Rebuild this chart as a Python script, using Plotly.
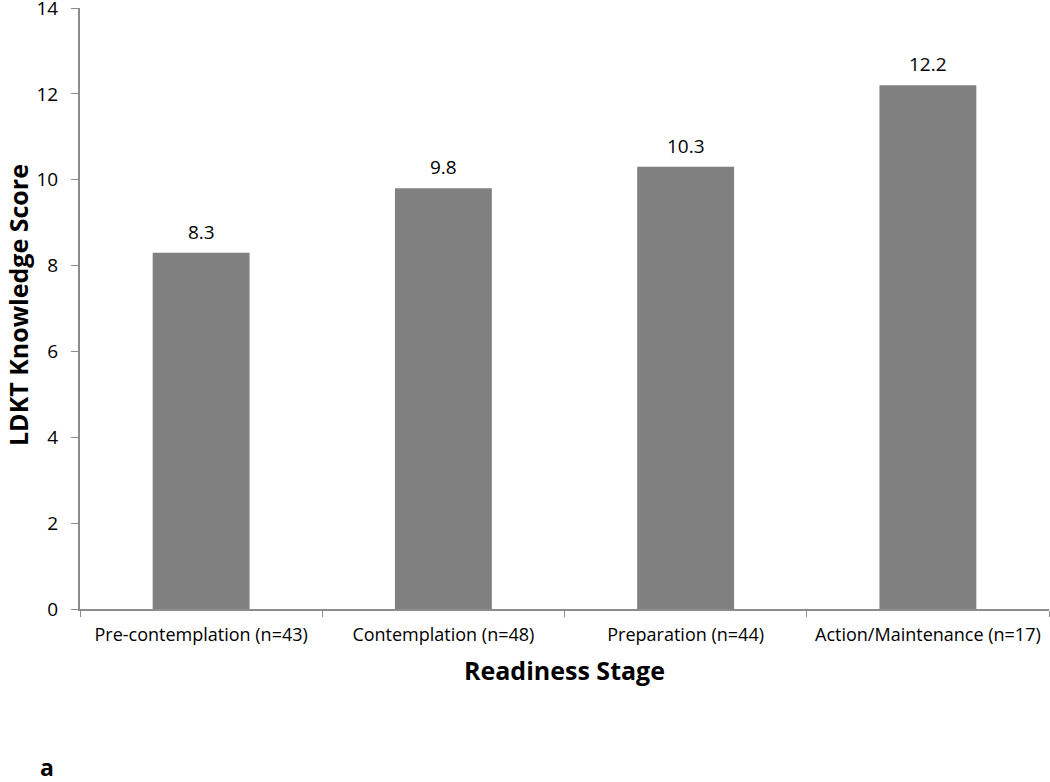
import plotly.graph_objects as go

stages = ['Pre-contemplation (n=43)', 'Contemplation (n=48)',
          'Preparation (n=44)', 'Action/Maintenance (n=17)']
scores = [8.3, 9.8, 10.3, 12.2]
y_ticks = [0, 2, 4, 6, 8, 10, 12, 14]

font = 'Open Sans'
axis_grey = '#8c8c8c'

# plot area in pixels: x 80..1049, y 8..609
W, H = 1050, 782
L, R, T, B = 80, 1, 8, 173
pw, ph = W - L - R, H - T - B

def px(x):
    return (x - L) / pw

def py(y):
    return (H - B - y) / ph

fig = go.Figure(go.Bar(x=stages, y=scores, marker_color='#808080',
                       marker_line_width=0, width=0.4, hoverinfo='x+y'))

# value labels above bars
for s, v in zip(stages, scores):
    fig.add_annotation(x=s, y=v, text=str(v), showarrow=False, yanchor='bottom',
                       yshift=6, font=dict(family=font, size=19, color='black'))

# axis titles and panel letter
def label(x, y, text, size, angle=0):
    fig.add_annotation(x=px(x), y=py(y), xref='paper', yref='paper',
                       xanchor='center', yanchor='middle', text=text,
                       showarrow=False, textangle=angle, borderpad=0,
                       font=dict(family=font, size=size, color='black'))

label(564, 670, '<b>Readiness Stage</b>', 25)
label(18, 305, '<b>LDKT Knowledge Score</b>', 25, -90)
label(47, 767, '<b>a</b>', 23)

fig.update_layout(
    width=W, height=H,
    margin=dict(l=L, r=R, t=T, b=B),
    plot_bgcolor='white', paper_bgcolor='white',
    showlegend=False,
    font=dict(family=font, color='black'),
    xaxis=dict(
        automargin=False,
        tickson='boundaries', ticks='outside', ticklen=6, tickcolor=axis_grey,
        showline=True, linecolor=axis_grey, linewidth=2,
        tickfont=dict(size=18), showgrid=False, ticklabelstandoff=8,
    ),
    yaxis=dict(
        automargin=False,
        range=[0, 14], tickvals=y_ticks, ticks='outside', ticklen=7, tickcolor=axis_grey,
        showline=True, linecolor=axis_grey, linewidth=2, showgrid=False,
        zeroline=False, tickfont=dict(size=19), ticklabelstandoff=9,
        ticklabeloverflow='allow',
    ),
)

# drop the browser's default body margin so the figure fills the window exactly
fig.write_html('out.html', config={'displayModeBar': False},
               post_script="document.body.style.margin='0';"
                           "document.body.style.overflow='hidden';")
